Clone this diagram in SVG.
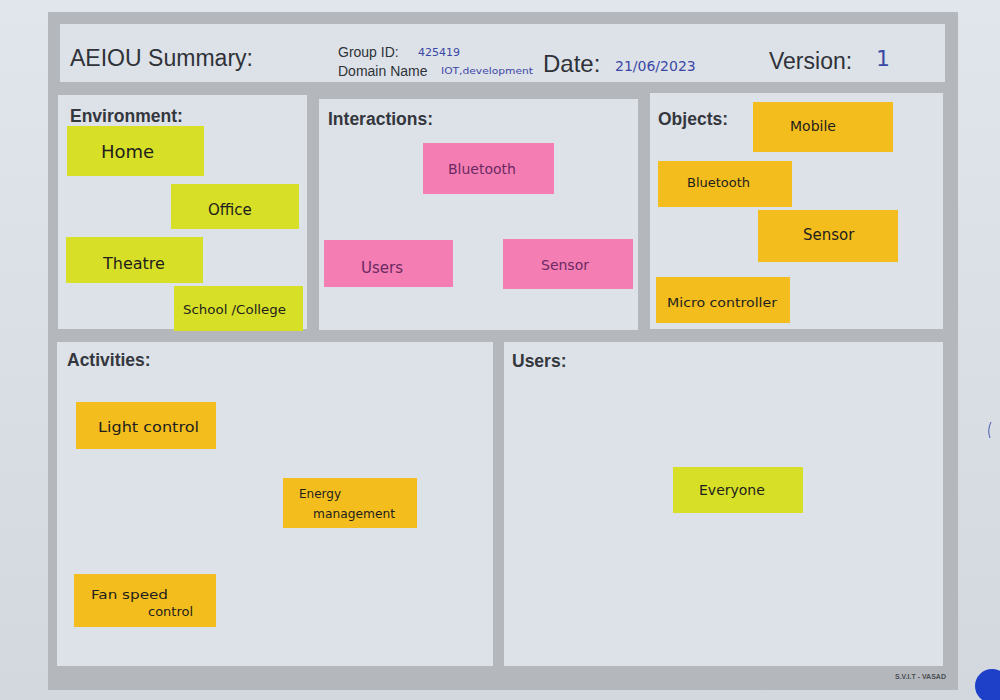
<svg xmlns="http://www.w3.org/2000/svg" width="1000" height="700" viewBox="0 0 1000 700">
  <defs>
    <linearGradient id="paper" x1="0" y1="0" x2="0" y2="1">
      <stop offset="0" stop-color="#e1e6ec"/>
      <stop offset="1" stop-color="#d3d8df"/>
    </linearGradient>
    <style>
      .panel { fill: #dde2e8; }
      .frame { fill: #b4b8bd; }
      .title { font-family: "Liberation Sans", Arial, sans-serif; fill: #2f3238; }
      .head { font-family: "Liberation Sans", Arial, sans-serif; font-weight: bold; font-size: 17.5px; fill: #34373d; }
      .hand { font-family: "DejaVu Sans", "Liberation Sans", sans-serif; fill: #1e1e1e; }
      .blue { font-family: "DejaVu Sans", "Liberation Sans", sans-serif; fill: #3b47a6; }
      .purple { fill: #6b2a63; }
      .lime { fill: #d7df26; }
      .orange { fill: #f2bd1d; }
      .pink { fill: #f47db3; }
    </style>
  </defs>

  <!-- paper -->
  <rect x="0" y="0" width="1000" height="700" fill="url(#paper)"/>
  <!-- frame -->
  <rect class="frame" x="48" y="12" width="910" height="678"/>

  <!-- header -->
  <g id="header">
    <rect class="panel" x="60" y="24" width="885" height="58" fill="#e0e5eb"/>
    <text class="title" x="70" y="66" font-size="23" textLength="183" lengthAdjust="spacingAndGlyphs">AEIOU Summary:</text>
    <text class="title" x="338" y="57" font-size="14">Group ID:</text>
    <text class="blue" x="418" y="56" font-size="11">425419</text>
    <text class="title" x="338" y="76" font-size="14">Domain Name</text>
    <text class="blue" x="441" y="74" font-size="9" textLength="92" lengthAdjust="spacingAndGlyphs">IOT,development</text>
    <text class="title" x="543" y="72" font-size="24">Date:</text>
    <text class="blue" x="615" y="71" font-size="14">21/06/2023</text>
    <text class="title" x="769" y="69" font-size="23">Version:</text>
    <text class="blue" x="876" y="66" font-size="22">1</text>
  </g>

  <!-- Environment -->
  <g id="environment">
    <rect class="panel" x="58" y="95" width="249" height="234"/>
    <text class="head" x="70" y="122">Environment:</text>
    <g id="env-home"><rect class="lime" x="67" y="126" width="137" height="50"/><text class="hand" x="101" y="158" font-size="18">Home</text></g>
    <g id="env-office"><rect class="lime" x="171" y="184" width="128" height="45"/><text class="hand" x="208" y="215" font-size="15">Office</text></g>
    <g id="env-theatre"><rect class="lime" x="66" y="237" width="137" height="46"/><text class="hand" x="103" y="269" font-size="16">Theatre</text></g>
    <g id="env-school"><rect class="lime" x="174" y="286" width="129" height="45"/><text class="hand" x="183" y="314" font-size="13" textLength="103" lengthAdjust="spacingAndGlyphs">School /College</text></g>
  </g>

  <!-- Interactions -->
  <g id="interactions">
    <rect class="panel" x="319" y="99" width="319" height="231"/>
    <text class="head" x="328" y="125">Interactions:</text>
    <g id="int-bluetooth"><rect class="pink" x="423" y="143" width="131" height="51"/><text class="hand purple" x="448" y="174" font-size="14">Bluetooth</text></g>
    <g id="int-users"><rect class="pink" x="324" y="240" width="129" height="47"/><text class="hand purple" x="361" y="273" font-size="15">Users</text></g>
    <g id="int-sensor"><rect class="pink" x="503" y="239" width="130" height="50"/><text class="hand purple" x="541" y="270" font-size="14">Sensor</text></g>
  </g>

  <!-- Objects -->
  <g id="objects">
    <rect class="panel" x="650" y="93" width="293" height="236"/>
    <text class="head" x="658" y="125">Objects:</text>
    <g id="obj-mobile"><rect class="orange" x="753" y="102" width="140" height="50"/><text class="hand" x="790" y="131" font-size="14">Mobile</text></g>
    <g id="obj-bluetooth"><rect class="orange" x="658" y="161" width="134" height="46"/><text class="hand" x="687" y="187" font-size="13">Bluetooth</text></g>
    <g id="obj-sensor"><rect class="orange" x="758" y="210" width="140" height="52"/><text class="hand" x="803" y="240" font-size="15">Sensor</text></g>
    <g id="obj-micro"><rect class="orange" x="656" y="277" width="134" height="46"/><text class="hand" x="667" y="307" font-size="13" textLength="110" lengthAdjust="spacingAndGlyphs">Micro controller</text></g>
  </g>

  <!-- Activities -->
  <g id="activities">
    <rect class="panel" x="57" y="342" width="436" height="324"/>
    <text class="head" x="67" y="366">Activities:</text>
    <g id="act-light"><rect class="orange" x="76" y="402" width="140" height="47"/><text class="hand" x="98" y="432" font-size="14" textLength="101" lengthAdjust="spacingAndGlyphs">Light  control</text></g>
    <g id="act-energy"><rect class="orange" x="283" y="478" width="134" height="50"/><text class="hand" x="299" y="498" font-size="12">Energy</text><text class="hand" x="313" y="518" font-size="12" textLength="82" lengthAdjust="spacingAndGlyphs">management</text></g>
    <g id="act-fan"><rect class="orange" x="74" y="574" width="142" height="53"/><text class="hand" x="91" y="599" font-size="13" textLength="77" lengthAdjust="spacingAndGlyphs">Fan speed</text><text class="hand" x="148" y="616" font-size="13">control</text></g>
  </g>

  <!-- Users -->
  <g id="users">
    <rect class="panel" x="504" y="342" width="439" height="324"/>
    <text class="head" x="512" y="367">Users:</text>
    <g id="usr-everyone"><rect class="lime" x="673" y="467" width="130" height="46"/><text class="hand" x="699" y="495" font-size="14">Everyone</text></g>
  </g>

  <g id="connectors"/>

  <!-- footer marks -->
  <g id="footer">
    <text x="895" y="679" font-family="Liberation Sans, Arial, sans-serif" font-size="7" font-weight="bold" fill="#4a4d52">S.V.I.T - VASAD</text>
    <path d="M991 422 Q987 430 990 438" fill="none" stroke="#4a5bb0" stroke-width="1"/>
    <circle cx="992" cy="686" r="17" fill="#1e3fc8"/>
  </g>
</svg>
